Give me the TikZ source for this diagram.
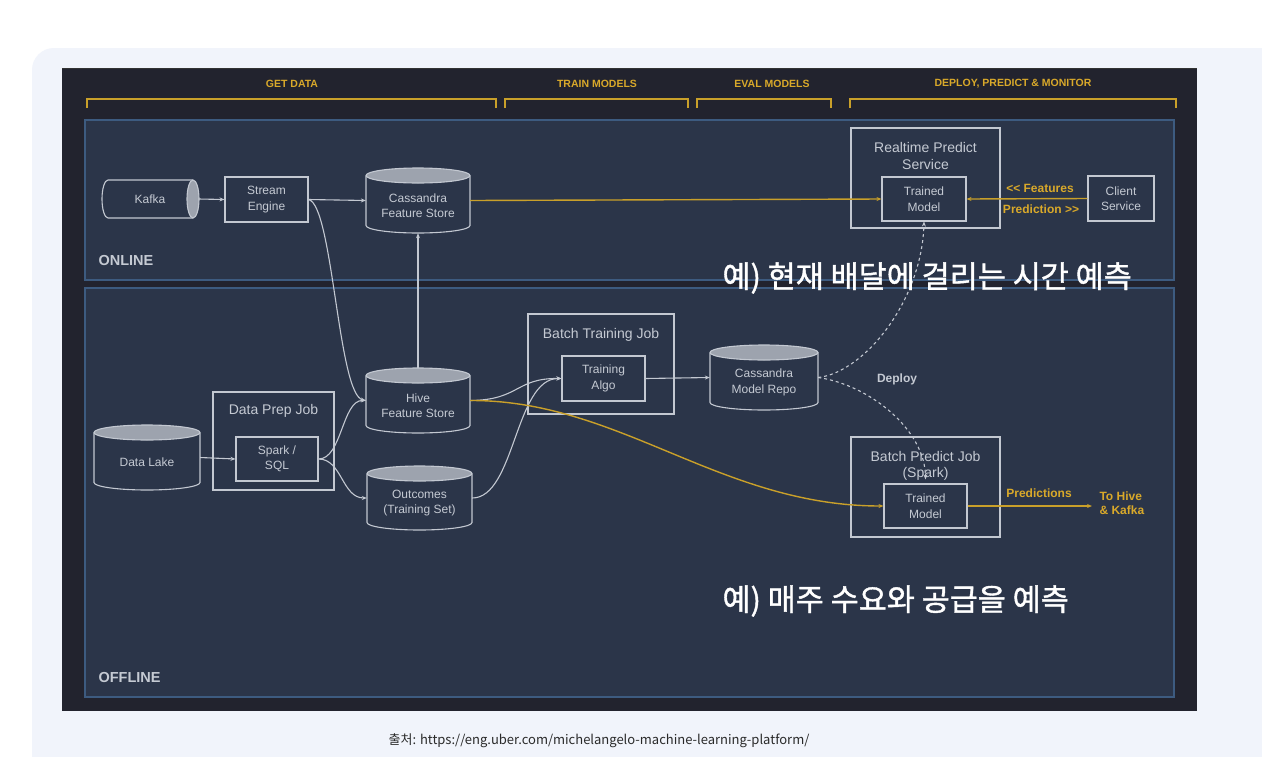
\documentclass[tikz,border=0pt]{standalone}
\usepackage{fontspec}
\setmainfont{Liberation Sans}
\newfontfamily\kr{Noto Sans CJK KR}
\newfontfamily\krb[FakeBold=1.3]{Noto Sans CJK KR}
\usetikzlibrary{arrows.meta}
\definecolor{panel}{HTML}{F1F4FB}
\definecolor{darkbg}{HTML}{22232E}
\definecolor{regfill}{HTML}{2B3549}
\definecolor{regline}{HTML}{3D5B80}
\definecolor{wline}{HTML}{C3C8D1}
\definecolor{wtext}{HTML}{C5CAD3}
\definecolor{cyltop}{HTML}{9DA3AE}
\definecolor{gold}{HTML}{D9A92A}
\definecolor{goldline}{HTML}{C9A02A}
\definecolor{captext}{HTML}{2A2A2A}
\tikzset{
  box/.style={draw=wline, line width=1.1pt, text=wtext, align=center, inner sep=0pt,
    font=\fontsize{12}{15.5}\selectfont},
  outerbox/.style={draw=wline, line width=1.1pt, inner sep=0pt},
  title/.style={text=wtext, align=center, font=\fontsize{14}{16.5}\selectfont},
  cyltext/.style={text=wtext, align=center, inner sep=0pt, font=\fontsize{12}{15.5}\selectfont},
  cylbody/.style={draw=wline, line width=1.1pt, fill=regfill},
  cyltopst/.style={draw=wline, line width=1.1pt, fill=cyltop},
  region/.style={draw=regline, line width=1.5pt, fill=regfill},
  wire/.style={draw=wline, line width=1.1pt, -{Stealth[length=5pt,width=4pt]}},
  gwire/.style={draw=goldline, line width=1.4pt, -{Stealth[length=5pt,width=4pt]}},
  dashwire/.style={wire, dash pattern=on 3pt off 3pt},
  hdr/.style={text=gold, font=\fontsize{10.5}{12}\selectfont\bfseries},
  bracket/.style={draw=goldline, line width=1.3pt},
  glabel/.style={text=gold, align=left, font=\fontsize{12}{16}\selectfont\bfseries},
  zone/.style={text=wtext, anchor=west, font=\fontsize{14.5}{16}\selectfont\bfseries},
  krtitle/.style={text=white, anchor=west, font=\krb\fontsize{30.5}{34}\selectfont},
}
\newcommand\dbcyl[6]{%
  \pgfmathsetmacro\cL{#2-#4/2}%
  \pgfmathsetmacro\cR{#2+#4/2}%
  \pgfmathsetmacro\cT{#3-#5/2+7.5}%
  \pgfmathsetmacro\cB{#3+#5/2-7.5}%
  \pgfmathsetmacro\cRx{#4/2}%
  \filldraw[cylbody] (\cL,\cT) -- (\cL,\cB) arc[start angle=180,end angle=360,x radius=\cRx pt,y radius=7.5pt] -- (\cR,\cT);
  \filldraw[cyltopst] (#2,\cT) ellipse[x radius=\cRx pt, y radius=7.5pt];
  \node[inner sep=0pt, minimum width=#4pt, minimum height=#5pt] (#1) at (#2,#3) {};
  \node[cyltext] (#1 lbl) at (#2,#3+5) {#6};
}
\begin{document}
\begin{tikzpicture}[x=1pt,y=-1pt]
\useasboundingbox (0,0) rectangle (1262,756);
\clip (0,0) rectangle (1262,756);
\fill[white] (0,0) rectangle (1262,756);
\fill[panel, rounded corners=22pt] (32,48) rectangle (1320,820);
\fill[darkbg] (62,68) rectangle (1197,711);
\draw[black!80, line width=1pt] (62,68.5) -- (1197,68.5);
% headers
\node[hdr] (hget) at (292,84) {GET DATA};
\node[hdr] (htrain) at (597,84) {TRAIN MODELS};
\node[hdr] (heval) at (772,84) {EVAL MODELS};
\node[hdr] (hdeploy) at (1013,84) {DEPLOY, PREDICT \& MONITOR};
\draw[bracket] (87,108) -- (87,99) -- (496,99) -- (496,108);
\draw[bracket] (505,108) -- (505,99) -- (688,99) -- (688,108);
\draw[bracket] (697,108) -- (697,99) -- (831,99) -- (831,108);
\draw[bracket] (850,108) -- (850,99) -- (1176,99) -- (1176,108);
% regions
\draw[region] (85,120) rectangle (1174,280);
\draw[region] (85,288) rectangle (1174,697);
\node[zone] (online) at (95,261) {ONLINE};
\node[zone] (offline) at (95,677) {OFFLINE};
% Kafka
\filldraw[cylbody] (193,180) -- (108,180) arc[start angle=90,end angle=270,x radius=6pt,y radius=19pt] -- (193,218);
\filldraw[cyltopst] (193,199) ellipse[x radius=6pt,y radius=19pt];
\node[cyltext, minimum width=97pt, minimum height=38pt] (kafka) at (150,199) {Kafka};
% online boxes
\node[box, minimum width=83pt, minimum height=45pt] (stream) at (266.5,199.5) {Stream\\Engine};
\dbcyl{cfs}{418}{200.5}{104}{65}{Cassandra\\Feature Store}
\node[outerbox, minimum width=149pt, minimum height=100pt] (rtps) at (925.5,178) {};
\node[title] (rtps title) at (925.5,156) {Realtime Predict\\Service};
\node[box, minimum width=84pt, minimum height=44pt] (tmon) at (924,199) {Trained\\Model};
\node[box, minimum width=66pt, minimum height=45pt] (client) at (1121,198.5) {Client\\Service};
\node[glabel] (feat) at (1040,188) {<{}< Features};
\node[glabel] (pred) at (1041,209) {Prediction >{}>};
% offline boxes
\dbcyl{lake}{147}{457.5}{106}{65}{Data Lake}
\node[outerbox, minimum width=121pt, minimum height=98pt] (dpj) at (273.5,441) {};
\node[title] (dpj title) at (273.5,411) {Data Prep Job};
\node[box, minimum width=82pt, minimum height=44pt] (spark) at (277,459) {Spark /\\SQL};
\dbcyl{hive}{418}{400.5}{104}{65}{Hive\\Feature Store}
\dbcyl{outc}{419.5}{498}{105}{64}{Outcomes\\(Training Set)}
\node[outerbox, minimum width=146pt, minimum height=100pt] (btj) at (601,364) {};
\node[title] (btj title) at (601,335) {Batch Training Job};
\node[box, minimum width=83pt, minimum height=45pt] (algo) at (603.5,378.5) {Training\\Algo};
\dbcyl{repo}{764}{377.5}{108}{65}{Cassandra\\Model Repo}
\node[text=wtext, font=\fontsize{12}{14}\selectfont\bfseries] (deploy) at (897,379) {Deploy};
\node[outerbox, minimum width=149pt, minimum height=100pt] (bpj) at (925.5,487) {};
\node[title] (bpj title) at (925.5,466) {Batch Predict Job\\(Spark)};
\node[box, minimum width=83pt, minimum height=44pt] (tmoff) at (925.5,506) {Trained\\Model};
\node[glabel] (preds) at (1039,493) {Predictions};
\node[glabel, anchor=north west] (tohivelbl) at (1096,488) {To Hive\\[-2pt]\& Kafka};
\coordinate (tohive) at (1092,506);
% connectors
\draw[wire] (kafka.east) -- (stream.west);
\draw[wire] (stream.east) -- (cfs.west);
\draw[wire] (stream.east) .. controls (333,205) and (338,395) .. (hive.west);
\draw[wire] (hive.north) -- (cfs.south);
\draw[gwire] (cfs.east) -- (tmon.west);
\draw[gwire] (client.west) -- (tmon.east);
\draw[wire] (lake.east) -- (spark.west);
\draw[wire] (spark.east) .. controls (342,459) and (342,400) .. (hive.west);
\draw[wire] (spark.east) .. controls (342,459) and (342,498) .. (outc.west);
\draw[wire] (hive.east) .. controls (520,400) and (515,378) .. (algo.west);
\draw[wire] (outc.east) .. controls (515,498) and (515,378) .. (algo.west);
\draw[wire] (algo.east) -- (repo.west);
\draw[gwire] (hive.east) .. controls (620,400) and (720,506) .. (tmoff.west);
\draw[gwire] (tmoff.east) -- (tohive);
\draw[dashwire] (repo.east) .. controls (865,372) and (922,300) .. (tmon.south);
\draw[dashwire] (repo.east) .. controls (870,385) and (925,430) .. ([yshift=4pt]tmoff.north);
% korean titles
\node[krtitle] (kr1) at (719,278) {예) 현재 배달에 걸리는 시간 예측};
\node[krtitle] (kr2) at (719,601) {예) 매주 수요와 공급을 예측};
\node[text=captext, font=\kr\fontsize{13}{15}\selectfont] (cap) at (599,741) {출처: https://eng.uber.com/michelangelo-machine-learning-platform/};
\end{tikzpicture}
\end{document}
